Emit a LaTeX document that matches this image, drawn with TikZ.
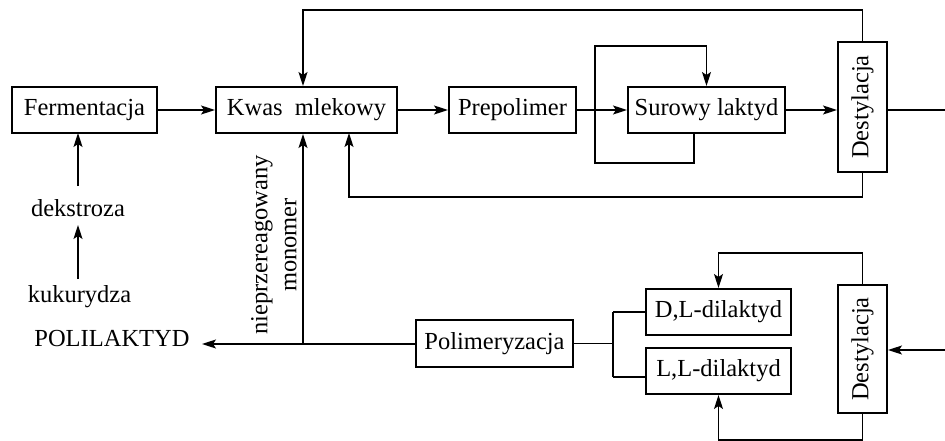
\documentclass[tikz,border=0pt]{standalone}
\usepackage{fontspec}
\setmainfont{Liberation Serif}
\usetikzlibrary{arrows.meta}
\begin{document}
\begin{tikzpicture}[x=1pt,y=-1pt,
  every node/.style={font=\fontsize{24.5}{29}\selectfont},
  box/.style={draw,line width=2pt,inner sep=0pt,anchor=center},
  vbox/.style={box,rotate=90},
  txt/.style={inner sep=0pt,anchor=center},
  conn/.style={line width=1.5pt},
  arr/.style={conn,-{Stealth[length=14pt,width=9pt,inset=3pt]}}]
\useasboundingbox (0,0) rectangle (945,441);
% nodes
\node[box,minimum width=145pt,minimum height=46pt] (ferm) at (84.5,110) {Fermentacja};
\node[box,minimum width=181pt,minimum height=46pt] (kwas) at (306.5,110) {Kwas\enspace mlekowy};
\node[box,minimum width=127pt,minimum height=46pt] (prep) at (512.5,110) {Prepolimer};
\node[box,minimum width=157pt,minimum height=46pt] (sur) at (706.5,110) {Surowy laktyd};
\node[vbox,minimum width=130pt,minimum height=49pt] (dest1) at (862.5,107) {Destylacja};
\node[box,minimum width=157pt,minimum height=47pt] (poli) at (494.5,343.5) {Polimeryzacja};
\node[box,minimum width=145pt,minimum height=46pt] (dl) at (718.5,312) {D,L-dilaktyd};
\node[box,minimum width=145pt,minimum height=46pt] (ll) at (718.5,371) {L,L-dilaktyd};
\node[vbox,minimum width=128pt,minimum height=49pt] (dest2) at (862.5,349) {Destylacja};
\node[txt] (dek) at (78,208) {dekstroza};
\node[txt] (kuk) at (79.5,297) {kukurydza};
\node[txt] (pla) at (112,339) {POLILAKTYD};
\node[txt,rotate=90,align=center] (mono) at (274,245) {nieprzereagowany\\monomer};
% helper coordinates
\coordinate (redge1) at (945,110);
\coordinate (redge2) at (945,350);
\coordinate (jn) at (303,344);
\coordinate (br) at (613,343.5);
% main line
\draw[arr] (ferm.east) -- (kwas.west);
\draw[arr] (kwas.east) -- (prep.west);
\draw[arr] (prep.east) -- (sur.west);
\draw[arr] (sur.east) -- (sur.east -| dest1.north);
\draw[conn] (dest1.south |- redge1) -- (redge1);
% recycle from first distillation
\draw[arr] (dest1.east) -- ++(0,-31) -| (jn |- kwas.north);
\draw[arr] (dest1.west) -- (862.5,197) -| (349,133);
% loop around crude lactide
\draw[arr] (694,133) -- (694,163) -- (595,163) -- (595,46) -| (sur.north);
% feed
\draw[arr] (78,186) -- (78,133);
\draw[arr] (78,279) -- (78,225);
% polymerization outputs
\draw[arr] (poli.west |- jn) -- (202,344);
\draw[arr] (jn) -- (jn |- kwas.south);
\draw[conn] (poli.east) -- (br);
\draw[conn] (br |- dl.west) -- (br |- 0,377);
\draw[conn] (br |- dl.west) -- (dl.west);
\draw[conn] (br |- 0,377) -- (ll.west |- 0,377);
% second distillation
\draw[arr] (redge2) -- (dest2.south |- redge2);
\draw[arr] (dest2.east) -- ++(0,-31) -| (dl.north);
\draw[arr] (dest2.west) -- (862.5,440) -| (ll.south);
\end{tikzpicture}
\end{document}
